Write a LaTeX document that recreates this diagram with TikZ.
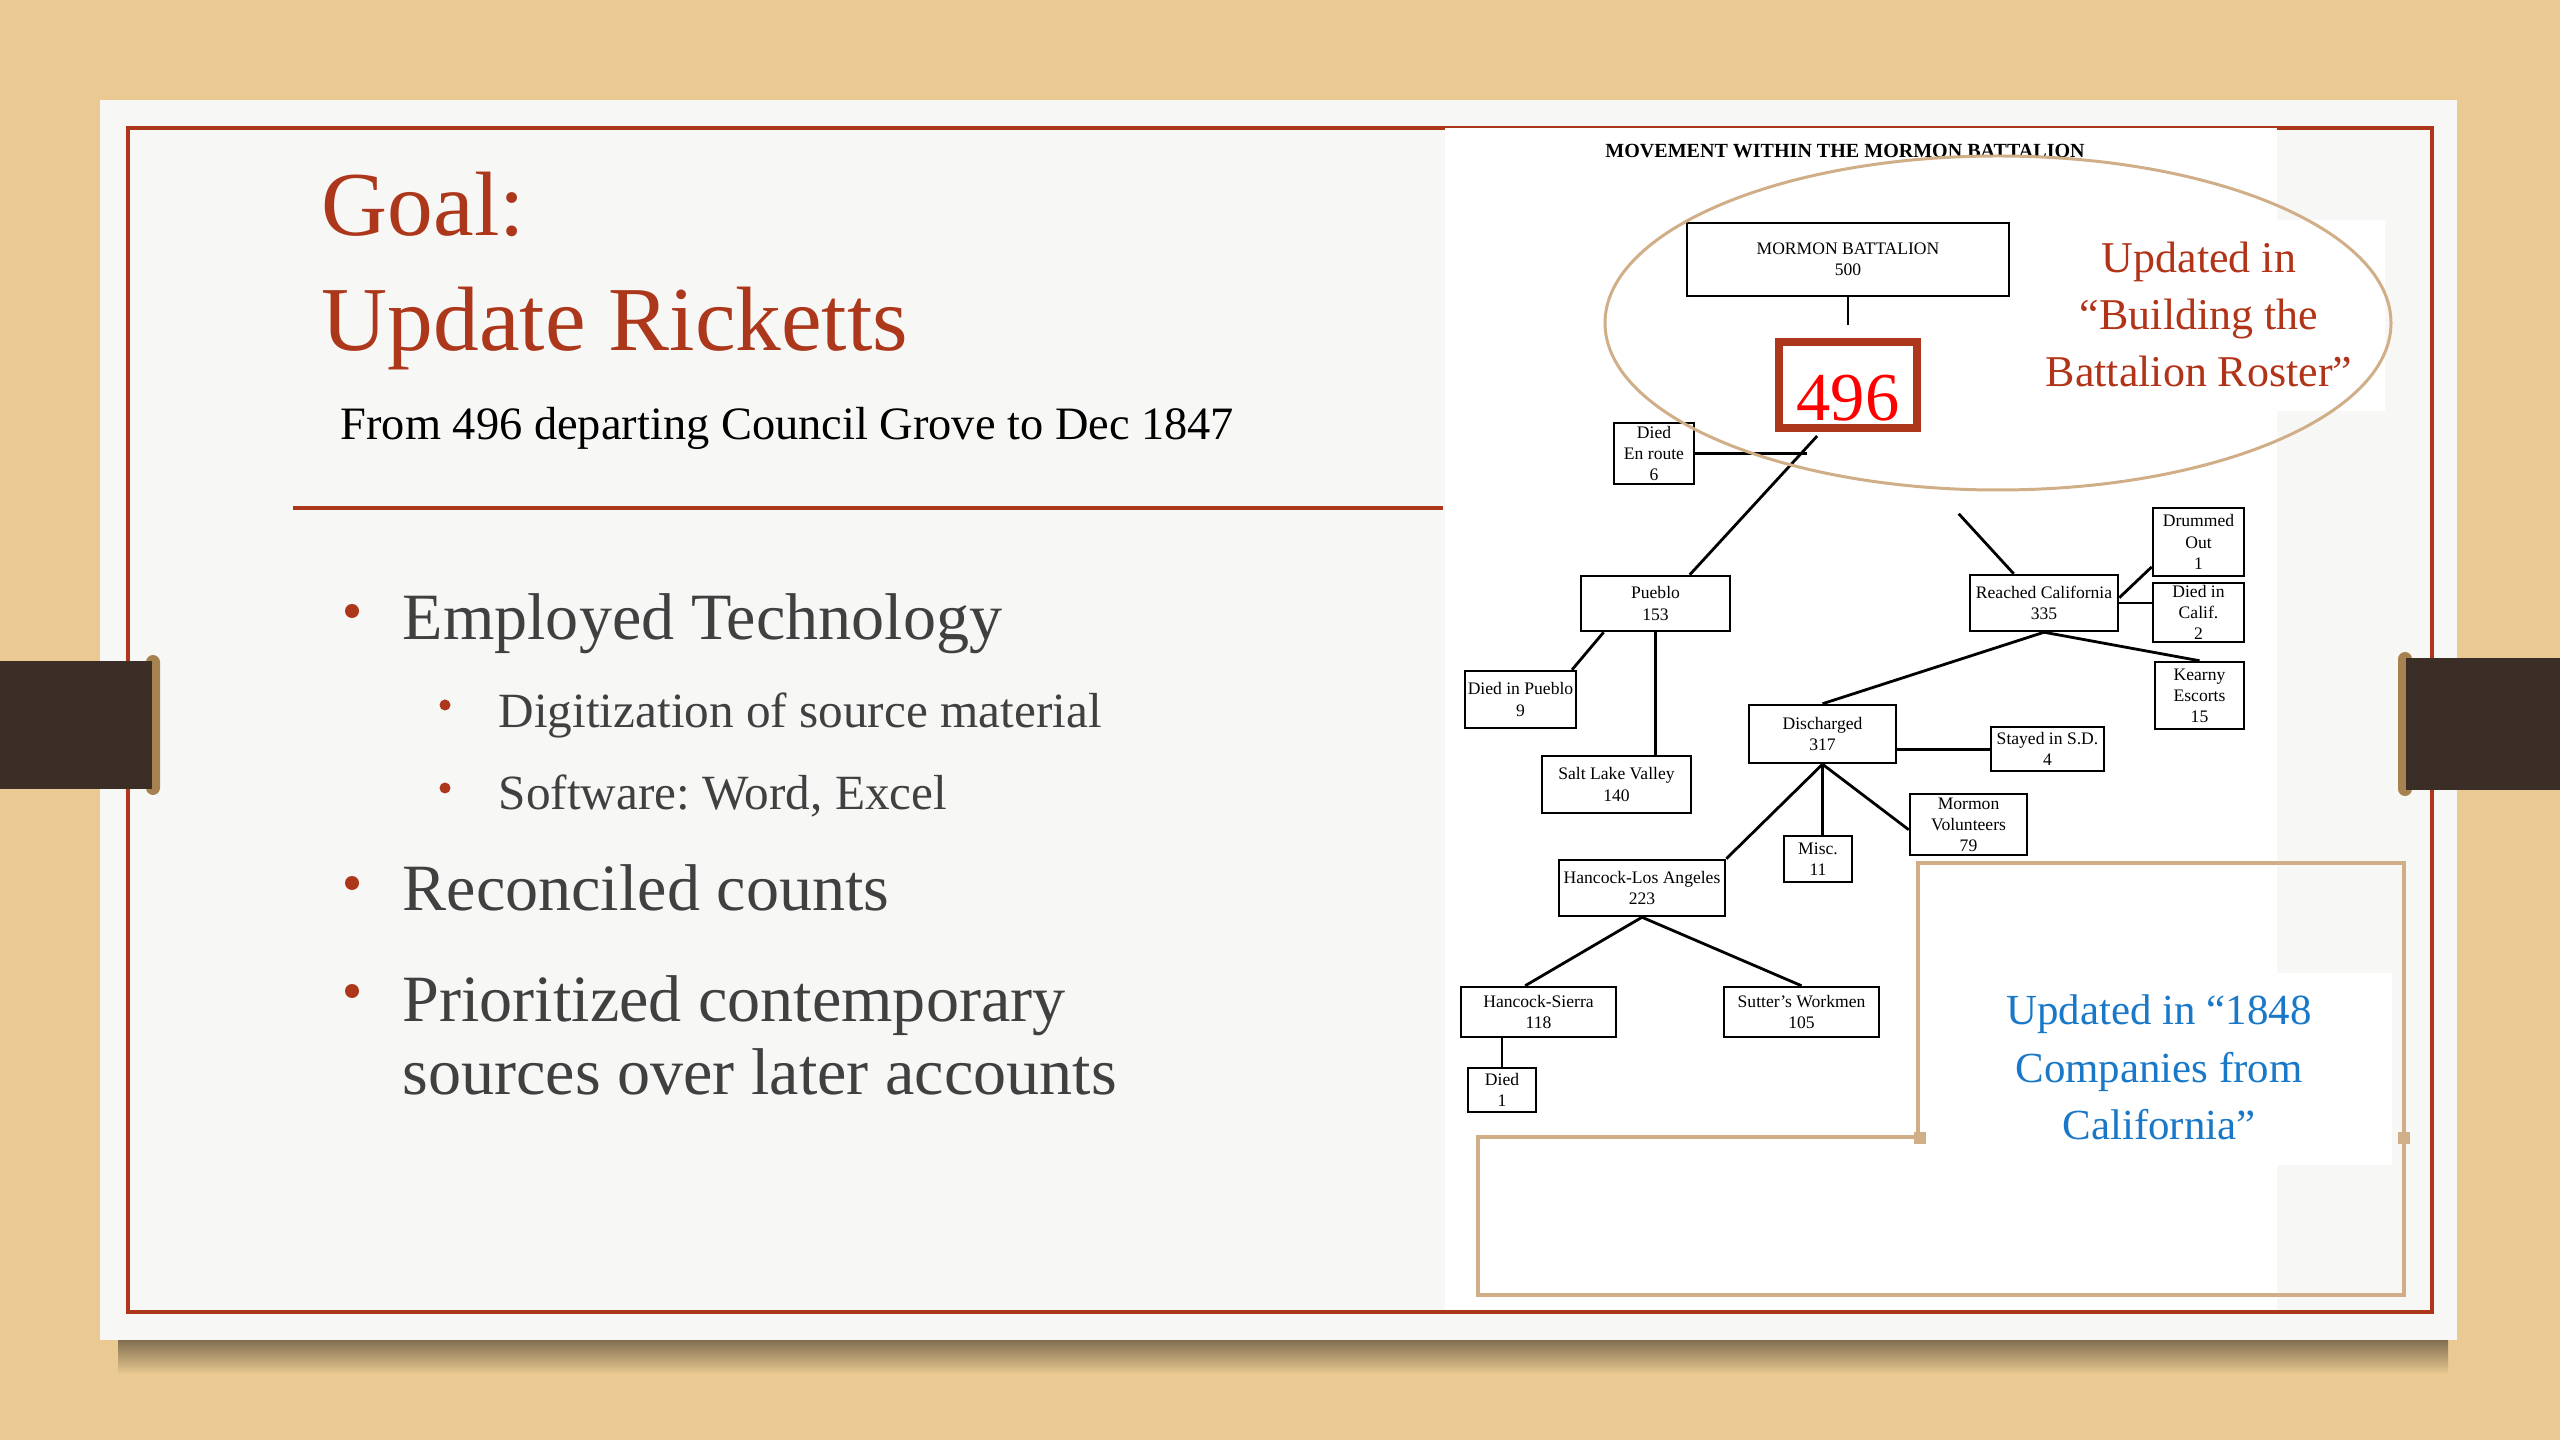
\documentclass[tikz,border=0pt]{standalone}
\usepackage{fontspec}
\setmainfont{Liberation Serif}
\usepackage{tikz}
\usetikzlibrary{calc}
\usetikzlibrary{positioning}

\definecolor{wood}{RGB}{234,201,146}
\definecolor{card}{RGB}{247,247,246}
\definecolor{rust}{RGB}{172,55,27}
\definecolor{tanline}{RGB}{208,174,136}
\definecolor{calloutred}{RGB}{178,52,24}
\definecolor{calloutblue}{RGB}{25,120,200}
\definecolor{bodygray}{RGB}{64,64,64}
\definecolor{tabbrown}{RGB}{58,46,38}
\definecolor{tabgold}{RGB}{165,130,80}

\frenchspacing

\begin{document}
\begin{tikzpicture}[x=0.01cm,y=-0.01cm]
    \useasboundingbox (0,0) rectangle (2560,1440);

    % slide
    \fill[wood] (0,0) rectangle (2560,1440);
    \shade[top color=black!45!wood, bottom color=wood] (118,1340) rectangle (2448,1374);
    \fill[card] (100,100) rectangle (2457,1340);
    \draw[rust, line width=0.9pt] (128,128) rectangle (2432,1312);

    % title and subtitle
    \node[anchor=north west, inner sep=0pt, align=left, text=rust, font=\fontsize{26}{32.7}\selectfont] (Title) at (321,171) {Goal:\\Update Ricketts};
    \node[anchor=base west, inner sep=0pt, font=\fontsize{13.2}{15}\selectfont] (Sub) at (340,440) {From 496 departing Council Grove to Dec 1847};
    \draw[rust, line width=0.9pt] (293,508) -- (1443,508);

    % bullets
    \tikzset{lone/.style={anchor=base west, inner sep=0pt, text=bodygray, font=\fontsize{18.8}{20.8}\selectfont},
             ltwo/.style={anchor=base west, inner sep=0pt, text=bodygray, font=\fontsize{14}{16}\selectfont}}
    \node[lone] (B1) at (402,640) {Employed Technology};
    \node[ltwo] (B1a) at (498,728) {Digitization of source material};
    \node[ltwo] (B1b) at (498,810) {Software: Word, Excel};
    \node[lone] (B2) at (402,911) {Reconciled counts};
    \node[lone, anchor=north west, align=left] (B3) at (402,975) {Prioritized contemporary\\sources over later accounts};
    \foreach \y in {611,883,991} \fill[rust] (352,\y) circle (7);
    \foreach \y in {705,788} \fill[rust] (445,\y) circle (5.5);

    % scanned chart
    \fill[white] (1445,128) rectangle (2277,1310);
    \fill[white] (2000,220) rectangle (2385,411);
    \fill[white] (1925,973) rectangle (2392,1165);
    \node[anchor=base, inner sep=0pt, font=\bfseries\fontsize{5.7}{6}\selectfont] (ChartTitle) at (1845,158) {MOVEMENT WITHIN THE MORMON BATTALION};

    \tikzset{scanbox/.style 2 args={draw, line width=0.7pt, fill=white, inner sep=0pt, align=center,
                 minimum width=#1, minimum height=#2, font=\fontsize{5}{6}\selectfont},
             link/.style={line width=0.8pt}}
    \node[scanbox={3.22cm}{0.73cm}] (MB) at (1848,259.5) {MORMON BATTALION\\500};
    \node[scanbox={0.80cm}{0.61cm}] (DEn) at (1654,453.5) {Died\\En route\\6};
    \node[scanbox={1.49cm}{0.55cm}] (Pueblo) at (1655.5,603.5) {Pueblo\\153};
    \node[scanbox={1.11cm}{0.57cm}] (DiedPueblo) at (1520.5,699.5) {Died in Pueblo\\9};
    \node[scanbox={1.49cm}{0.57cm}] (SaltLake) at (1616.5,784.5) {Salt Lake Valley\\140};
    \node[scanbox={1.48cm}{0.56cm}] (ReachedCA) at (2044,603) {Reached California\\335};
    \node[scanbox={0.91cm}{0.68cm}] (Drummed) at (2198.5,542) {Drummed\\Out\\1};
    \node[scanbox={0.91cm}{0.59cm}] (DiedCA) at (2198.5,612.5) {Died in\\Calif.\\2};
    \node[scanbox={0.89cm}{0.67cm}] (Kearny) at (2199.5,695.5) {Kearny\\Escorts\\15};
    \node[scanbox={1.47cm}{0.58cm}] (Discharged) at (1822.5,734) {Discharged\\317};
    \node[scanbox={1.13cm}{0.44cm}] (StayedSD) at (2047.5,749) {Stayed in S.D.\\4};
    \node[scanbox={0.68cm}{0.46cm}] (Misc) at (1818,859) {Misc.\\11};
    \node[scanbox={1.17cm}{0.61cm}] (Volunteers) at (1968.5,824.5) {Mormon\\Volunteers\\79};
    \node[scanbox={1.66cm}{0.56cm}] (HancockLA) at (1642,888) {Hancock-Los Angeles\\223};
    \node[scanbox={1.55cm}{0.50cm}] (HancockSierra) at (1538.5,1012) {Hancock-Sierra\\118};
    \node[scanbox={1.55cm}{0.50cm}] (Sutter) at (1801.5,1012) {Sutter's Workmen\\105};
    \node[scanbox={0.68cm}{0.44cm}] (Died) at (1502,1090) {Died\\1};

    % corrected start count
    \node[draw=rust, line width=2.2pt, fill=white, text=red, inner sep=0pt, minimum width=1.38cm, minimum height=0.86cm,
          text height=20pt, text depth=0pt, font=\fontsize{19.5}{20}\selectfont] (R496) at (1848,385) {496};

    % links
    \draw[link] (MB.south) -- ++(0,28);
    \draw[link, shorten <=1.6pt] (R496.240) -- (Pueblo.40);
    \draw[link] (DEn.east) -- ++(112,0);
    \draw[link] (ReachedCA.136) -- ++(-55,-60);
    \draw[link] (Pueblo.209) -- (DiedPueblo.30);
    \draw[link] (Pueblo.south) -- (Pueblo.south |- SaltLake.north);
    \draw[link] (ReachedCA.4) -- (Drummed.208);
    \draw[link] (ReachedCA.east) -- (ReachedCA.east -| DiedCA.west);
    \draw[link] (ReachedCA.south) -- (Kearny.north);
    \draw[link] (ReachedCA.south) -- (Discharged.north);
    \draw[link] (Discharged.-12) -- (Discharged.-12 -| StayedSD.west);
    \draw[link] (Discharged.south) -- (HancockLA.north east);
    \draw[link] (Discharged.south) -- (Discharged.south |- Misc.north);
    \draw[link] (Discharged.south) -- (Volunteers.185);
    \draw[link] (HancockLA.south) -- (HancockSierra.117);
    \draw[link] (HancockLA.south) -- (Sutter.north);
    \draw[link] (Died.north |- HancockSierra.south) -- (Died.north);

    % callouts
    \draw[tanline, line width=0.85pt] (1998,323) ellipse [x radius=393, y radius=167];
    \draw[tanline, line width=1pt] (1918,863) -- (2404,863) -- (2404,1295) -- (1478,1295) -- (1478,1137) -- (1918,1137) -- cycle;
    \fill[tanline] (1914,1132) rectangle (1926,1144);
    \fill[tanline] (2398,1132) rectangle (2410,1144);
    \node[text=calloutred, align=center, inner sep=0pt, font=\fontsize{12.5}{16.3}\selectfont] (UpdRoster) at (2199,314.5) {Updated in\\``Building the\\Battalion Roster''};
    \node[text=calloutblue, align=center, inner sep=0pt, font=\fontsize{12.2}{16.3}\selectfont] (UpdCompanies) at (2159,1067.5) {Updated in ``1848\\Companies from\\California''};

    % binder tabs
    \fill[tabgold, rounded corners=2pt] (146,655) rectangle (160,795);
    \fill[tabbrown] (0,661) rectangle (152,789);
    \fill[tabgold, rounded corners=2pt] (2398,652) rectangle (2412,796);
    \fill[tabbrown] (2406,658) rectangle (2560,790);

\end{tikzpicture}
\end{document}
